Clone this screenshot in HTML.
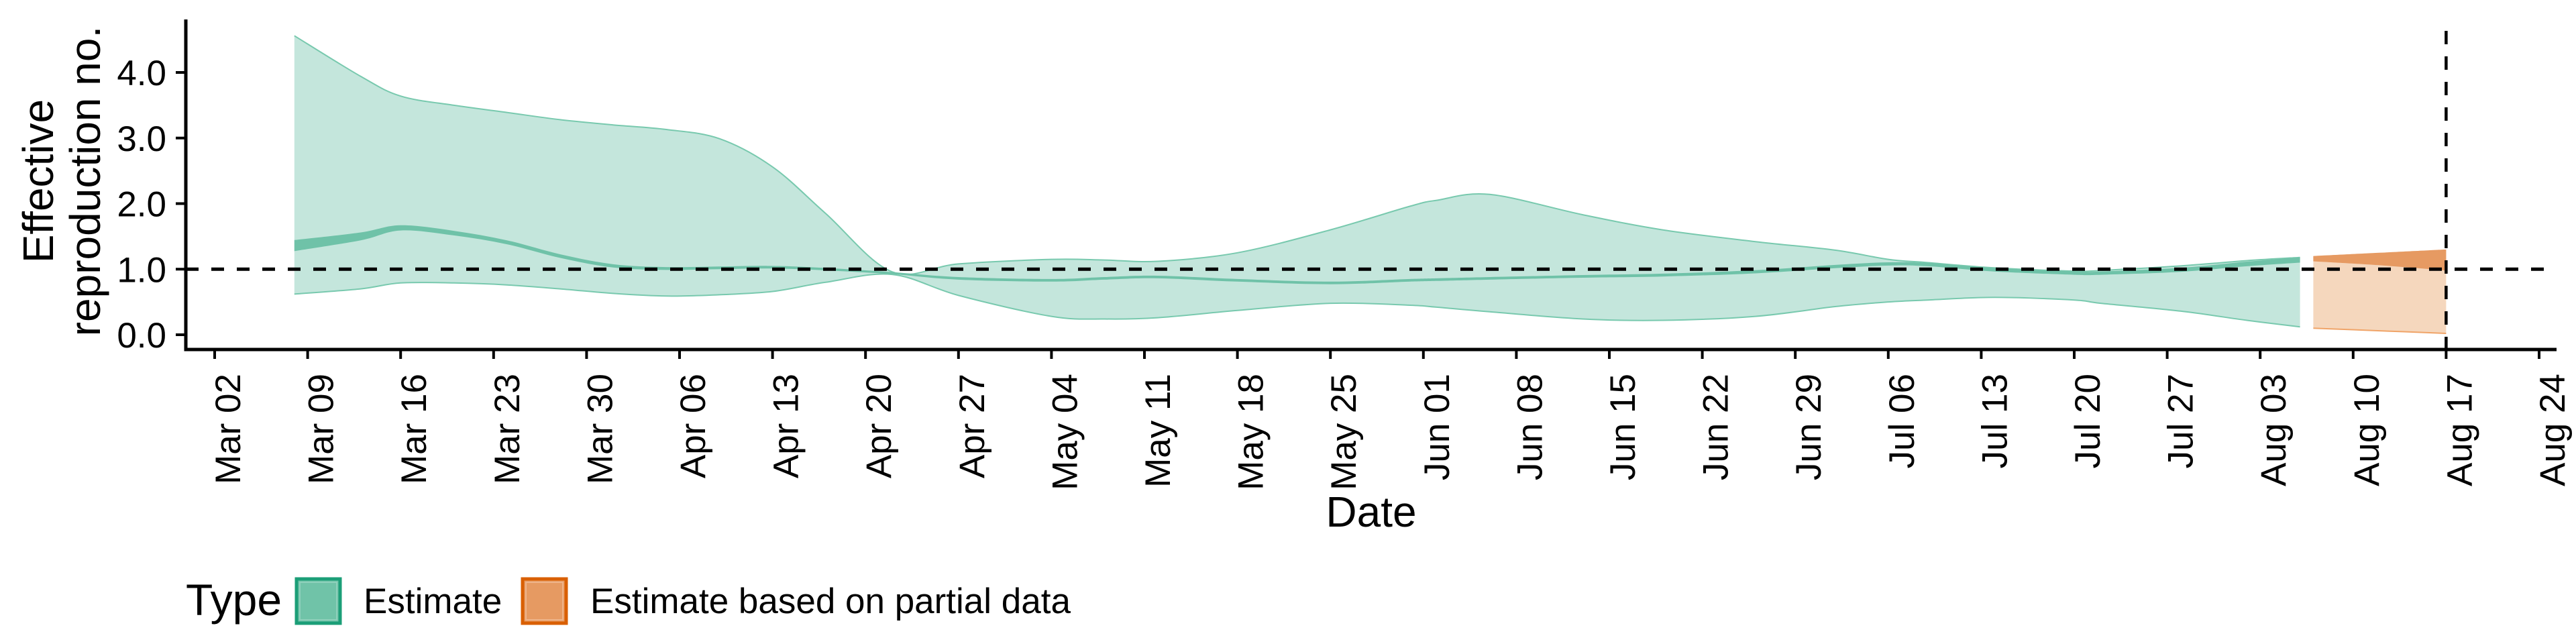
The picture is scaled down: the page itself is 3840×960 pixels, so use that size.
<!DOCTYPE html>
<html><head><meta charset="utf-8"><title>Effective reproduction number</title>
<style>
html,body{margin:0;padding:0;background:#fff;}
svg{display:block;font-family:"Liberation Sans",Arial,sans-serif;}
</style></head>
<body>
<svg id="chart" width="3840" height="960" viewBox="0 0 3840 960" xmlns="http://www.w3.org/2000/svg">
  <g id="bands"></g>
  <g id="ref"></g>
  <g id="axes"></g>
  <g id="legend">
    <text x="277" y="917" font-size="66">Type</text>
    <g>
      <rect x="442" y="863" width="65" height="66" fill="#70c3a8" stroke="#1b9e77" stroke-width="5"/>
      <rect x="447" y="868" width="55" height="56" fill="none" stroke="#8fd0bb" stroke-width="2"/>
      <text x="542" y="914" font-size="53">Estimate</text>
    </g>
    <g>
      <rect x="779" y="863" width="65" height="66" fill="#e69a62" stroke="#d95f02" stroke-width="5"/>
      <rect x="784" y="868" width="55" height="56" fill="none" stroke="#eeb48a" stroke-width="2"/>
      <text x="880" y="914" font-size="53">Estimate based on partial data</text>
    </g>
  </g>
</svg>
<script>
// ---- data (days since Mar 02) ----
const estDays   = [6, 11, 14, 18, 22, 26, 30, 34, 38, 42, 46, 51, 56, 63, 67, 71, 77, 84, 90, 92, 96, 103, 109, 116, 122, 126, 129, 134, 140, 142, 148, 153, 157];
const estUpper  = [4.56, 3.94, 3.64, 3.5, 3.39, 3.28, 3.2, 3.13, 2.99, 2.56, 1.85, 0.96, 1.08, 1.15, 1.14, 1.12, 1.25, 1.6, 1.96, 2.05, 2.14, 1.83, 1.6, 1.42, 1.29, 1.15, 1.1, 1.02, 0.97, 0.98, 1.05, 1.13, 1.18];
const estMedian = [1.36, 1.5, 1.63, 1.55, 1.41, 1.2, 1.05, 1.01, 1.02, 1.03, 1.0, 0.94, 0.86, 0.83, 0.86, 0.88, 0.83, 0.79, 0.83, 0.84, 0.86, 0.89, 0.91, 0.96, 1.04, 1.08, 1.07, 0.99, 0.94, 0.94, 0.99, 1.08, 1.14];
const estHalfW  = [0.085, 0.06, 0.04, 0.035, 0.03, 0.028, 0.025, 0.022, 0.02, 0.02, 0.018, 0.015, 0.02, 0.02, 0.02, 0.02, 0.02, 0.02, 0.02, 0.02, 0.02, 0.02, 0.022, 0.024, 0.025, 0.025, 0.025, 0.025, 0.025, 0.025, 0.03, 0.035, 0.04];
const estLower  = [0.62, 0.7, 0.79, 0.79, 0.76, 0.7, 0.63, 0.59, 0.61, 0.66, 0.8, 0.92, 0.6, 0.28, 0.24, 0.26, 0.37, 0.48, 0.45, 0.42, 0.35, 0.24, 0.22, 0.28, 0.43, 0.5, 0.53, 0.57, 0.53, 0.48, 0.36, 0.22, 0.12];
const partDays    = [158, 163, 168];
const partUpper   = [1.2, 1.25, 1.3];
const partInnerLo = [1.12, 1.06, 0.98];
const partLower   = [0.1, 0.06, 0.02];
const yTicks  = [0, 1, 2, 3, 4];
const yLabels = ["0.0", "1.0", "2.0", "3.0", "4.0"];
const xTickDays = [0,7,14,21,28,35,42,49,56,63,70,77,84,91,98,105,112,119,126,133,140,147,154,161,168,175];
const xLabels = ["Mar 02","Mar 09","Mar 16","Mar 23","Mar 30","Apr 06","Apr 13","Apr 20","Apr 27","May 04","May 11","May 18","May 25","Jun 01","Jun 08","Jun 15","Jun 22","Jun 29","Jul 06","Jul 13","Jul 20","Jul 27","Aug 03","Aug 10","Aug 17","Aug 24"];
const refValue = 1.0;
const reportDay = 168;

// ---- scales ----
const X0 = 320, PX_PER_DAY = 19.8;
const Y0 = 499, PX_PER_UNIT = 97.75;
const AX_L = 277, AX_R = 3811, AX_T = 29, AX_B = 521;
function xs(d){ return X0 + d * PX_PER_DAY; }
function ys(v){ return Y0 - v * PX_PER_UNIT; }
const NS = "http://www.w3.org/2000/svg";
function mk(tag, parent){ const e = document.createElementNS(NS, tag); parent.appendChild(e); return e; }

function smoothPts(days, vals){
  const p = days.map((d,i)=>[xs(d), ys(vals[i])]);
  let s = "";
  for(let i=0;i<p.length-1;i++){
    const p0=p[Math.max(0,i-1)], p1=p[i], p2=p[i+1], p3=p[Math.min(p.length-1,i+2)];
    const c1=[p1[0]+(p2[0]-p0[0])/6, p1[1]+(p2[1]-p0[1])/6];
    const c2=[p2[0]-(p3[0]-p1[0])/6, p2[1]-(p3[1]-p1[1])/6];
    s += ` C${c1[0].toFixed(1)},${c1[1].toFixed(1)} ${c2[0].toFixed(1)},${c2[1].toFixed(1)} ${p2[0].toFixed(1)},${p2[1].toFixed(1)}`;
  }
  return s;
}
function ribbon(days, hi, lo){
  const rd = days.slice().reverse(), rl = lo.slice().reverse();
  return `M${xs(days[0]).toFixed(1)},${ys(hi[0]).toFixed(1)}` + smoothPts(days, hi) +
         ` L${xs(rd[0]).toFixed(1)},${ys(rl[0]).toFixed(1)}` + smoothPts(rd, rl) + " Z";
}
function line(days, vals){ return `M${xs(days[0]).toFixed(1)},${ys(vals[0]).toFixed(1)}` + smoothPts(days, vals); }

const bands = document.getElementById("bands");
const innerHi = estMedian.map((m,i)=>m+estHalfW[i]);
const innerLo = estMedian.map((m,i)=>m-estHalfW[i]);

let e = mk("path", bands);


e.setAttribute("d", ribbon(estDays, estUpper, estLower)); e.setAttribute("fill", "#c4e6dc");
e = mk("path", bands);


e.setAttribute("d", line(estDays, estUpper)); e.setAttribute("fill","none"); e.setAttribute("stroke","#78c9ae"); e.setAttribute("stroke-width","2");
e = mk("path", bands);


e.setAttribute("d", line(estDays, estLower)); e.setAttribute("fill","none"); e.setAttribute("stroke","#78c9ae"); e.setAttribute("stroke-width","2");
e = mk("path", bands);


e.setAttribute("d", ribbon(estDays, innerHi, innerLo)); e.setAttribute("fill", "#6fc2a8");

e = mk("path", bands);


e.setAttribute("d", ribbon(partDays, partUpper, partLower)); e.setAttribute("fill", "#f5d7bd");
e = mk("path", bands);


e.setAttribute("d", line(partDays, partLower)); e.setAttribute("fill","none"); e.setAttribute("stroke","#f0a468"); e.setAttribute("stroke-width","2");
e = mk("path", bands);


e.setAttribute("d", ribbon(partDays, partUpper, partInnerLo)); e.setAttribute("fill", "#e69a62");

// reference lines
const ref = document.getElementById("ref");
e = mk("line", ref);


e.setAttribute("x1", AX_L); e.setAttribute("x2", AX_R); e.setAttribute("y1", ys(refValue)); e.setAttribute("y2", ys(refValue));
e.setAttribute("stroke","#000"); e.setAttribute("stroke-width","5"); e.setAttribute("stroke-dasharray","19 19");
e = mk("line", ref);


e.setAttribute("x1", xs(reportDay)); e.setAttribute("x2", xs(reportDay)); e.setAttribute("y1", 46); e.setAttribute("y2", AX_B);
e.setAttribute("stroke","#000"); e.setAttribute("stroke-width","4.5"); e.setAttribute("stroke-dasharray","20 18");

// axes
const axes = document.getElementById("axes");
e = mk("path", axes);


e.setAttribute("d", `M${AX_L},${AX_T} L${AX_L},${AX_B} L${AX_R},${AX_B}`);
e.setAttribute("fill","none"); e.setAttribute("stroke","#000"); e.setAttribute("stroke-width","5");

yTicks.forEach((v,i)=>{
  const t = mk("line", axes);
  
  
  t.setAttribute("x1", AX_L-15); t.setAttribute("x2", AX_L); t.setAttribute("y1", ys(v)); t.setAttribute("y2", ys(v));
  t.setAttribute("stroke","#000"); t.setAttribute("stroke-width","4");
  const l = mk("text", axes);
  
  
  l.setAttribute("x", 248); l.setAttribute("y", ys(v)+19); l.setAttribute("text-anchor","end"); l.setAttribute("font-size","53");
  l.textContent = yLabels[i];
});
xTickDays.forEach((d,i)=>{
  const t = mk("line", axes);
  
  
  t.setAttribute("x1", xs(d)); t.setAttribute("x2", xs(d)); t.setAttribute("y1", AX_B); t.setAttribute("y2", AX_B+14);
  t.setAttribute("stroke","#000"); t.setAttribute("stroke-width","4");
  const l = mk("text", axes);
  
  
  const bx = xs(d)+38, by = 557;
  l.setAttribute("x", bx); l.setAttribute("y", by); l.setAttribute("text-anchor","end"); l.setAttribute("font-size","53");
  l.setAttribute("transform", `rotate(-90 ${bx} ${by})`);
  l.textContent = xLabels[i];
});

e = mk("text", axes);


e.setAttribute("x", (AX_L+AX_R)/2); e.setAttribute("y", 785); e.setAttribute("text-anchor","middle"); e.setAttribute("font-size","64");
e.textContent = "Date";

e = mk("text", axes);


e.setAttribute("x", 79); e.setAttribute("y", 270); e.setAttribute("text-anchor","middle"); e.setAttribute("font-size","64");
e.setAttribute("transform", "rotate(-90 79 270)");
e.textContent = "Effective";
e = mk("text", axes);


e.setAttribute("x", 149); e.setAttribute("y", 270); e.setAttribute("text-anchor","middle"); e.setAttribute("font-size","64");
e.setAttribute("transform", "rotate(-90 149 270)");
e.textContent = "reproduction no.";
</script>
</body></html>
